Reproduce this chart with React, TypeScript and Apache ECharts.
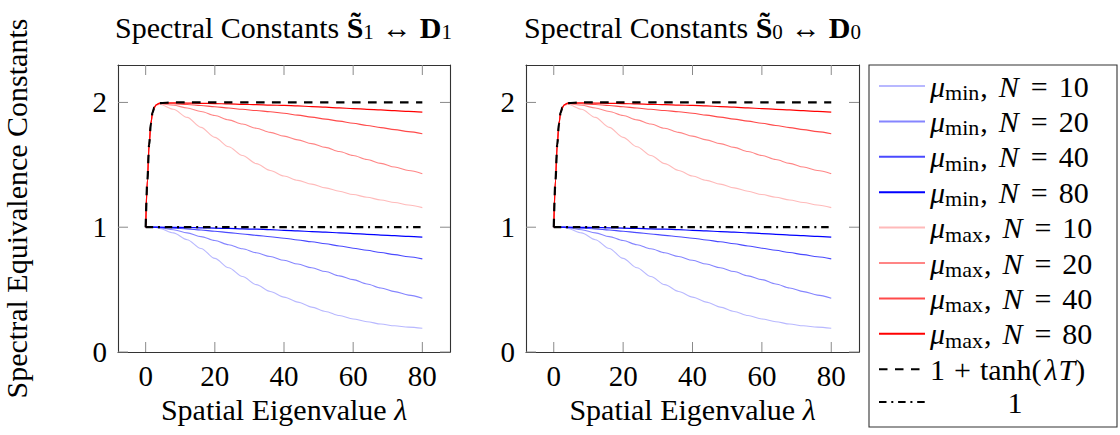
import React, { useEffect, useRef } from 'react';
import * as echarts from 'echarts';

// ---- data ----
const lambda = [0, 0.5, 1, 1.5, 2, 2.5, 3, 4, 8, 12, 16, 20, 24, 28, 32, 36, 40, 44, 48, 52, 56, 60, 64, 68, 72, 76, 80];

const minN10 = [1, 1, 1, 1, 1, 1, 0.998, 0.99, 0.955, 0.9, 0.83, 0.75, 0.675, 0.605, 0.54, 0.485, 0.44, 0.4, 0.36, 0.325, 0.292, 0.265, 0.243, 0.224, 0.21, 0.199, 0.19];
const minN20 = [1, 1, 1, 1, 1, 1, 1, 0.995, 0.98, 0.955, 0.925, 0.893, 0.86, 0.827, 0.795, 0.765, 0.735, 0.705, 0.675, 0.645, 0.61, 0.58, 0.545, 0.513, 0.484, 0.456, 0.43];
const minN40 = [1, 1, 1, 1, 1, 1, 1, 0.998, 0.993, 0.986, 0.978, 0.968, 0.957, 0.946, 0.935, 0.924, 0.912, 0.898, 0.883, 0.867, 0.85, 0.832, 0.815, 0.797, 0.78, 0.763, 0.746];
const minN80 = [1, 1, 1, 1, 1, 1, 1, 1, 0.999, 0.997, 0.995, 0.993, 0.99, 0.987, 0.984, 0.98, 0.975, 0.97, 0.965, 0.96, 0.955, 0.949, 0.943, 0.937, 0.932, 0.926, 0.92];

const maxN10 = [1, 1.38, 1.66, 1.83, 1.92, 1.96, 1.975, 1.985, 1.945, 1.88, 1.8, 1.72, 1.645, 1.575, 1.51, 1.455, 1.41, 1.375, 1.345, 1.315, 1.288, 1.262, 1.24, 1.218, 1.198, 1.178, 1.157];
const maxN20 = [1, 1.38, 1.66, 1.83, 1.92, 1.96, 1.98, 1.99, 1.978, 1.955, 1.927, 1.895, 1.86, 1.827, 1.793, 1.76, 1.73, 1.7, 1.67, 1.64, 1.607, 1.575, 1.543, 1.512, 1.482, 1.454, 1.428];
const maxN40 = [1, 1.38, 1.66, 1.83, 1.92, 1.96, 1.98, 1.993, 1.99, 1.983, 1.975, 1.966, 1.955, 1.945, 1.935, 1.925, 1.913, 1.898, 1.882, 1.866, 1.85, 1.833, 1.815, 1.798, 1.782, 1.766, 1.749];
const maxN80 = [1, 1.38, 1.66, 1.83, 1.92, 1.96, 1.98, 1.995, 1.997, 1.995, 1.993, 1.991, 1.988, 1.985, 1.982, 1.979, 1.976, 1.972, 1.967, 1.962, 1.956, 1.951, 1.945, 1.94, 1.934, 1.928, 1.922];

const tanhCurve = [1, 1.38, 1.66, 1.83, 1.92, 1.96, 1.98, 1.995, 2, 2, 2, 2, 2, 2, 2, 2, 2, 2, 2, 2, 2, 2, 2, 2, 2, 2, 2];
const oneX = [0, 80];
const oneY = [1, 1];

const xTicks = [0, 20, 40, 60, 80];
const yTicks = [0, 1, 2];
const xRange = [-8, 88];
const yRange = [0, 2.3];

const seriesNames = ['minN10', 'minN20', 'minN40', 'minN80', 'maxN10', 'maxN20', 'maxN40', 'maxN80', 'tanh', 'one'];
const muLabel = (sub: string, n: string) => `{i|μ}{s|${sub}}{c|,}{n|N}{e|=}{r|${n}}`;
const legendLabels: Record<string, string> = {
  minN10: muLabel('min', '10'),
  minN20: muLabel('min', '20'),
  minN40: muLabel('min', '40'),
  minN80: muLabel('min', '80'),
  maxN10: muLabel('max', '10'),
  maxN20: muLabel('max', '20'),
  maxN40: muLabel('max', '40'),
  maxN80: muLabel('max', '80'),
  tanh: '{r|1}{p|+}{r|tanh(}{l|λ}{i|T}{r|)}',
  one: '{w|1}',
};

const FONT = 'Liberation Serif';
const FS = 30;
const FSD = 29;
const TICK_LEN = 10;
const TICK_STYLE = { stroke: '#8a8a8a', lineWidth: 1 };

export default function App() {
  const ref = useRef<HTMLDivElement>(null);
  useEffect(() => {
    const chart = echarts.init(ref.current!, null, { renderer: 'svg' });

    const lineData = [minN10, minN20, minN40, minN80, maxN10, maxN20, maxN40, maxN80, tanhCurve];
    const colors = ['#b8b8ff', '#8585ff', '#4a4aff', '#0000ff', '#ffbaba', '#ff8585', '#ff4a4a', '#ff0000', '#000000', '#000000'];
    const widths = [1.1, 1.1, 1.1, 1.2, 1.1, 1.1, 1.1, 1.2, 2.2, 2.2];

    const grids = [
      { left: 117, top: 65, width: 333, height: 287 },
      { left: 526, top: 65, width: 333, height: 287 },
    ];

    const axisLine = { show: true, onZero: false, lineStyle: { color: '#333', width: 1.1 } };
    const digitStyle = { fontFamily: FONT, fontSize: FSD, color: '#000' };

    const xAxis: any[] = [];
    const yAxis: any[] = [];
    grids.forEach((_, p) => {
      xAxis.push({
        type: 'value', gridIndex: p, min: xRange[0], max: xRange[1], position: 'bottom',
        axisLine, splitLine: { show: false }, axisTick: { show: false },
        axisLabel: { show: true, customValues: xTicks, margin: 9, lineHeight: 29, ...digitStyle },
        name: '{r|Spatial Eigenvalue }{i|λ}', nameLocation: 'middle', nameGap: 38,
        nameTextStyle: {
          fontFamily: FONT, fontSize: FS, color: '#000',
          rich: {
            r: { fontFamily: FONT, fontSize: FS, color: '#000' },
            i: { fontFamily: FONT, fontSize: FS, fontStyle: 'italic', color: '#000' },
          },
        },
      });
      xAxis.push({
        type: 'value', gridIndex: p, min: xRange[0], max: xRange[1], position: 'top',
        axisLine, splitLine: { show: false }, axisTick: { show: false },
        axisLabel: { show: false },
      });
      yAxis.push({
        type: 'value', gridIndex: p, min: yRange[0], max: yRange[1], interval: 1, position: 'left',
        axisLine, splitLine: { show: false }, axisTick: { show: false },
        axisLabel: { show: true, customValues: yTicks, margin: 11, ...digitStyle },
        ...(p === 0
          ? {
              name: 'Spectral Equivalence Constants', nameLocation: 'middle', nameGap: 87, nameRotate: 90,
              nameTextStyle: { fontFamily: FONT, fontSize: FS, color: '#000' },
            }
          : {}),
      });
      yAxis.push({
        type: 'value', gridIndex: p, min: yRange[0], max: yRange[1], interval: 1, position: 'right',
        axisLine, splitLine: { show: false }, axisTick: { show: false },
        axisLabel: { show: false },
      });
    });

    const series: any[] = [];
    grids.forEach((_, p) => {
      // inside tick marks (bottom/top) at the x tick values
      series.push({
        type: 'custom', xAxisIndex: 2 * p, yAxisIndex: 2 * p, silent: true, z: 1,
        data: xTicks.map((v) => [v]),
        renderItem: (_params: any, api: any) => {
          const v = api.value(0);
          const b = api.coord([v, yRange[0]]);
          const t = api.coord([v, yRange[1]]);
          return {
            type: 'group',
            children: [
              { type: 'line', shape: { x1: b[0], y1: b[1], x2: b[0], y2: b[1] - TICK_LEN }, style: TICK_STYLE },
              { type: 'line', shape: { x1: t[0], y1: t[1], x2: t[0], y2: t[1] + TICK_LEN }, style: TICK_STYLE },
            ],
          };
        },
      });
      // inside tick marks (left/right) at the y tick values
      series.push({
        type: 'custom', xAxisIndex: 2 * p, yAxisIndex: 2 * p, silent: true, z: 1,
        data: yTicks.map((v) => [v]),
        renderItem: (_params: any, api: any) => {
          const v = api.value(0);
          const l = api.coord([xRange[0], v]);
          const r = api.coord([xRange[1], v]);
          return {
            type: 'group',
            children: [
              { type: 'line', shape: { x1: l[0], y1: l[1], x2: l[0] + TICK_LEN, y2: l[1] }, style: TICK_STYLE },
              { type: 'line', shape: { x1: r[0], y1: r[1], x2: r[0] - TICK_LEN, y2: r[1] }, style: TICK_STYLE },
            ],
          };
        },
      });
      seriesNames.forEach((name, k) => {
        const data = k < 9
          ? lambda.map((x, i) => [x, lineData[k][i]])
          : oneX.map((x, i) => [x, oneY[i]]);
        let type: any = 'solid';
        if (k === 8) type = [8.5, 7.5];
        if (k === 9) type = [7.5, 4.8, 2, 4.8];
        series.push({
          type: 'line', name, xAxisIndex: 2 * p, yAxisIndex: 2 * p,
          data, showSymbol: false, symbol: 'none', silent: true, z: 2 + k * 0.1,
          smooth: k < 9 ? 0.3 : false, smoothMonotone: 'x',
          lineStyle: { color: colors[k], width: widths[k], type, cap: 'butt' },
          itemStyle: { color: colors[k] },
        });
      });
    });

    const titleRich = {
      r: { fontFamily: FONT, fontSize: FS, fill: '#000' },
      a: { fontFamily: FONT, fontSize: FS, fill: '#000', padding: [0, 8, 0, 8] },
      b: { fontFamily: FONT, fontSize: FS, fontWeight: 'bold', fill: '#000' },
      s: { fontFamily: FONT, fontSize: 21, lineHeight: 16, verticalAlign: 'bottom', fill: '#000' },
    } as any;
    const titleFor = (k: string) => `{r|Spectral Constants }{b|S\u0303}{s|${k}}{a|↔}{b|D}{s|${k}}`;

    const legendRich = {
      r: { fontFamily: FONT, fontSize: FS, lineHeight: 35, color: '#000' },
      i: { fontFamily: FONT, fontSize: FS, fontStyle: 'italic', lineHeight: 35, color: '#000' },
      l: { fontFamily: FONT, fontSize: FS, fontStyle: 'italic', lineHeight: 35, color: '#000', padding: [0, 1, 0, 3] },
      n: { fontFamily: FONT, fontSize: FS, fontStyle: 'italic', lineHeight: 35, color: '#000', padding: [0, 0, 0, 11] },
      c: { fontFamily: FONT, fontSize: FS, lineHeight: 35, color: '#000', padding: [0, 0, 0, 1] },
      e: { fontFamily: FONT, fontSize: FS, lineHeight: 35, color: '#000', padding: [0, 11, 0, 12] },
      p: { fontFamily: FONT, fontSize: FS, lineHeight: 35, color: '#000', padding: [0, 9, 0, 9] },
      s: { fontFamily: FONT, fontSize: 22, lineHeight: 22, verticalAlign: 'bottom', color: '#000' },
      w: { fontFamily: FONT, fontSize: FS, lineHeight: 35, width: 170, align: 'center', color: '#000' },
    };

    const option: any = {
      animation: false,
      backgroundColor: '#fff',
      grid: grids,
      xAxis,
      yAxis,
      series,
      legend: {
        orient: 'vertical', left: 878, top: 71, padding: 0,
        itemWidth: 46, itemHeight: 30, itemGap: 2.9,
        selectedMode: false,
        data: seriesNames,
        formatter: (name: string) => legendLabels[name],
        itemStyle: { opacity: 0, color: 'rgba(0,0,0,0)', borderColor: 'rgba(0,0,0,0)', borderWidth: 0 },
        textStyle: { fontFamily: FONT, fontSize: FS, color: '#000', rich: legendRich },
      },
      graphic: [
        {
          type: 'rect', z: 0,
          shape: { x: 869, y: 65, width: 248, height: 362 },
          style: { fill: '#fff', stroke: '#333', lineWidth: 1.1 },
        },
        {
          type: 'text', x: 283.5, y: 27,
          style: { text: titleFor('1'), rich: titleRich, align: 'center', verticalAlign: 'middle', fontFamily: FONT, fontSize: FS, fill: '#000' },
        },
        {
          type: 'text', x: 692.5, y: 27,
          style: { text: titleFor('0'), rich: titleRich, align: 'center', verticalAlign: 'middle', fontFamily: FONT, fontSize: FS, fill: '#000' },
        },
      ],
    };

    chart.setOption(option);
    return () => chart.dispose();
  }, []);
  return <div ref={ref} style={{ position: 'fixed', left: 0, top: 0, width: 1120, height: 435 }} />;
}
